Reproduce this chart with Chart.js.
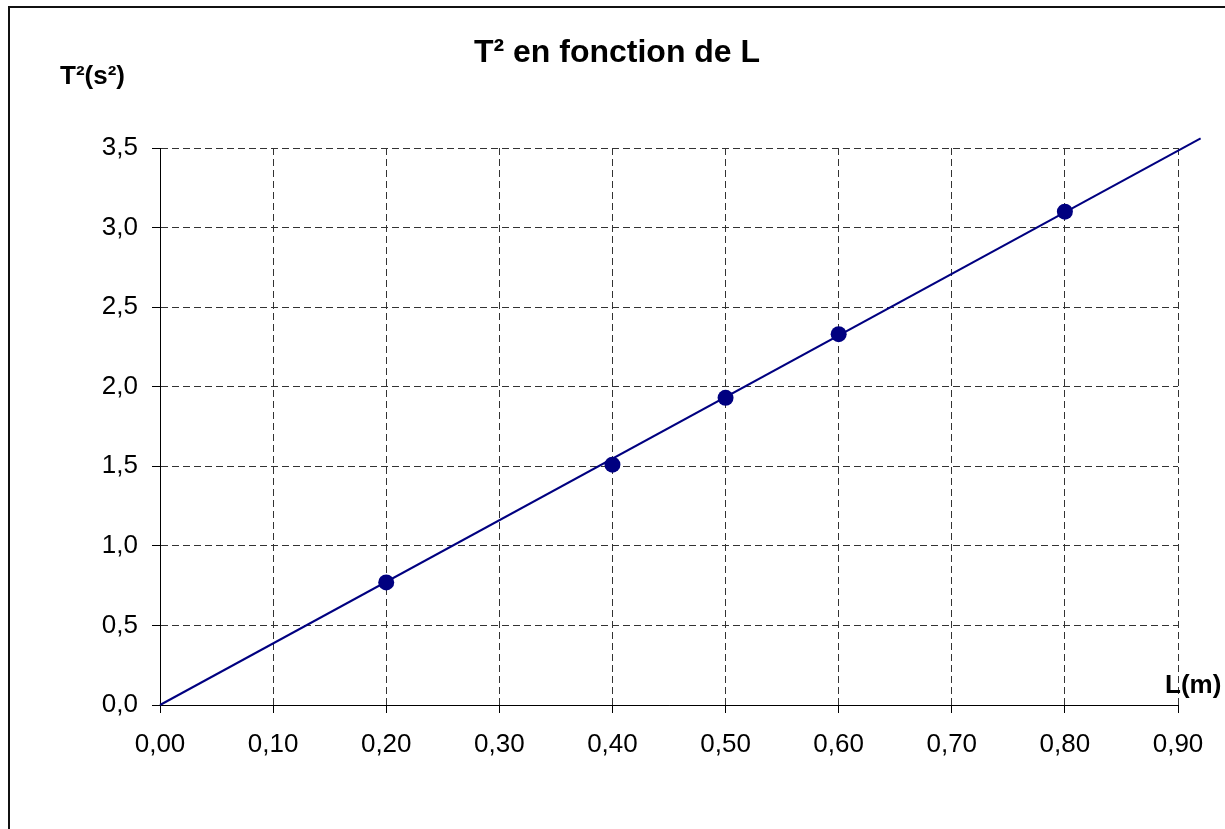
<!DOCTYPE html>
<html>
<head>
<meta charset="utf-8">
<script src="https://cdn.jsdelivr.net/npm/chart.js@4.4.1/dist/chart.umd.min.js"></script>
<style>
  body { margin: 0; background: #fff; }
  canvas { display: block; }
</style>
</head>
<body>
<canvas id="chart" width="1225" height="829"></canvas>
<script>
// measured points
const lengths = [0.2, 0.4, 0.5, 0.6, 0.8];
const periodsSquared = [0.77, 1.51, 1.93, 2.33, 3.10];
// trend line end points
const trendL = [0, 0.92];
const trendT2 = [0, 3.56];

const xTickStep = 0.1;
const yTickStep = 0.5;
const chartTitle = "T\u00b2 en fonction de L";
const yAxisLabel = "T\u00b2(s\u00b2)";
const xAxisLabel = "L(m)";

const navy = "#000080";
const FONT = "'Liberation Sans', Arial, sans-serif";

const toPoints = (xs, ys) => xs.map((x, i) => ({ x: x, y: ys[i] }));

// frame + title + axis names
const decorations = {
  id: "decorations",
  afterDraw(chart) {
    const ctx = chart.ctx;
    ctx.save();
    ctx.strokeStyle = "#111";
    ctx.lineWidth = 2;
    ctx.beginPath();
    ctx.moveTo(9, 840);
    ctx.lineTo(9, 7);
    ctx.lineTo(1240, 7);
    ctx.stroke();

    ctx.fillStyle = "#000";
    ctx.textBaseline = "alphabetic";
    ctx.font = "bold 32px " + FONT;
    ctx.textAlign = "center";
    ctx.fillText(chartTitle, 617, 62);

    ctx.font = "bold 26px " + FONT;
    ctx.textAlign = "left";
    ctx.fillText(yAxisLabel, 60, 84);
    ctx.fillText(xAxisLabel, 1165, 693);
    ctx.restore();
  }
};

const gridStyle = {
  color: "#333",
  lineWidth: 1,
  tickColor: "#000",
  tickLength: 8,
  drawTicks: true
};

new Chart(document.getElementById("chart"), {
  type: "scatter",
  data: {
    datasets: [
      {
        label: "tendance",
        data: toPoints(trendL, trendT2),
        showLine: true,
        borderColor: navy,
        borderWidth: 2,
        pointRadius: 0,
        clip: false,
        order: 2
      },
      {
        label: "mesures",
        data: toPoints(lengths, periodsSquared),
        backgroundColor: navy,
        borderColor: navy,
        pointRadius: 8,
        pointBorderWidth: 0,
        order: 1
      }
    ]
  },
  options: {
    responsive: false,
    animation: false,
    layout: { padding: { top: 148, right: 47, left: 0, bottom: 0 } },
    plugins: {
      legend: { display: false },
      title: { display: false },
      tooltip: { enabled: false }
    },
    scales: {
      x: {
        type: "linear",
        min: 0,
        max: 0.9,
        afterFit: (scale) => { scale.height = 124; },
        grid: gridStyle,
        border: { display: true, color: "#000", width: 1, dash: [7, 4] },
        ticks: {
          stepSize: xTickStep,
          color: "#000",
          padding: 16,
          font: { family: FONT, size: 26 },
          callback: (v) => v.toFixed(2).replace(".", ",")
        }
      },
      y: {
        type: "linear",
        min: 0,
        max: 3.5,
        afterFit: (scale) => { scale.width = 160; },
        grid: gridStyle,
        border: { display: true, color: "#000", width: 1, dash: [7, 4] },
        ticks: {
          stepSize: yTickStep,
          color: "#000",
          padding: 14,
          font: { family: FONT, size: 26 },
          callback: (v) => v.toFixed(1).replace(".", ",")
        }
      }
    }
  },
  plugins: [decorations]
});
</script>
</body>
</html>
